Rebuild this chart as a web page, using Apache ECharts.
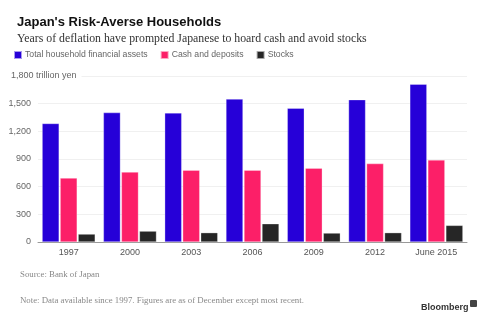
<!DOCTYPE html>
<html><head><meta charset="utf-8">
<script src="https://cdn.jsdelivr.net/npm/echarts@6/dist/echarts.min.js"></script>
<style>html,body{margin:0;padding:0;background:#fff}#c{width:488px;height:322px}</style>
</head><body><div id="c"></div>
<script>
const categories = ['1997','2000','2003','2006','2009','2012','June 2015'];
const totalAssets = [1285, 1403, 1400, 1550, 1450, 1543, 1711];
const cashDeposits = [693, 758, 779, 779, 801, 850, 890];
const stocks = [86, 118, 101, 198, 97, 101, 180];
const seriesNames = ['Total household financial assets','Cash and deposits','Stocks'];
const yTicks = [0, 300, 600, 900, 1200, 1500, 1800];
const unitLabel = '1,800 trillion yen';
const colors = ['#2600d8','#fc1f68','#262626'];

const chart = echarts.init(document.getElementById('c'), null, {renderer:'canvas'});
const fmt = v => v.toLocaleString('en-US');
const sans = 'Liberation Sans, Arial, sans-serif';
const serif = 'Liberation Serif, DejaVu Serif, serif';
chart.setOption({
  animation:false,
  color: colors,
  title:[
    {text:"Japan's Risk-Averse Households", left:12, top:11, textStyle:{fontFamily:sans, fontSize:13, fontWeight:'bold', color:'#111'}},
    {text:'Years of deflation have prompted Japanese to hoard cash and avoid stocks', left:12, top:28, textStyle:{fontFamily:serif, fontSize:11.8, fontWeight:'normal', color:'#333'}},
    {text:'Source: Bank of Japan', left:15, top:265, textStyle:{fontFamily:serif, fontSize:8.8, fontWeight:'normal', color:'#888'}},
    {text:'Note: Data available since 1997. Figures are as of December except most recent.', left:15, top:291, textStyle:{fontFamily:serif, fontSize:8.8, fontWeight:'normal', color:'#888'}},
    {text:'Bloomberg', left:416, top:298, textStyle:{fontFamily:sans, fontSize:9, fontWeight:'bold', color:'#333'}}
  ],
  legend:{left:8, top:45, itemWidth:8, itemHeight:8, itemGap:12, icon:'rect',
    textStyle:{fontFamily:sans, fontSize:8.7, color:'#666', padding:[0,0,0,-2]}, data:seriesNames},
  grid:{left:38, right:21, top:76, bottom:80},
  xAxis:{type:'category', data:categories,
    axisLine:{lineStyle:{color:'#999', width:1}}, axisTick:{show:false},
    axisLabel:{fontFamily:sans, fontSize:9, color:'#555', margin:6}},
  yAxis:{type:'value', min:yTicks[0], max:yTicks[yTicks.length-1], interval:300,
    axisLine:{show:false}, axisTick:{show:false},
    splitLine:{lineStyle:{color:'#f0f0f0'}},
    axisLabel:{fontFamily:sans, fontSize:9, color:'#666', margin:7,
      formatter: v => v === yTicks[yTicks.length-1] ? '' : fmt(v)}},
  graphic:[
    {type:'text', left:10, top:71, z:100, style:{text:unitLabel, font:'9px Liberation Sans, Arial, sans-serif', fill:'#666', backgroundColor:'#fff', padding:[0,5,0,1]}},
    {type:'rect', left:470, top:300, z:100, shape:{width:7,height:7, r:1}, style:{fill:'#444'}}
  ],
  series:[
    {name:seriesNames[0], type:'bar', data:totalAssets, barWidth:17, barGap:'6%', itemStyle:{borderColor:'rgba(255,255,255,0.6)', borderWidth:0.5}},
    {name:seriesNames[1], type:'bar', data:cashDeposits, barWidth:17, barGap:'6%', itemStyle:{borderColor:'rgba(255,255,255,0.6)', borderWidth:0.5}},
    {name:seriesNames[2], type:'bar', data:stocks, barWidth:17, barGap:'6%', itemStyle:{borderColor:'rgba(255,255,255,0.6)', borderWidth:0.5}}
  ]
});
</script></body></html>
